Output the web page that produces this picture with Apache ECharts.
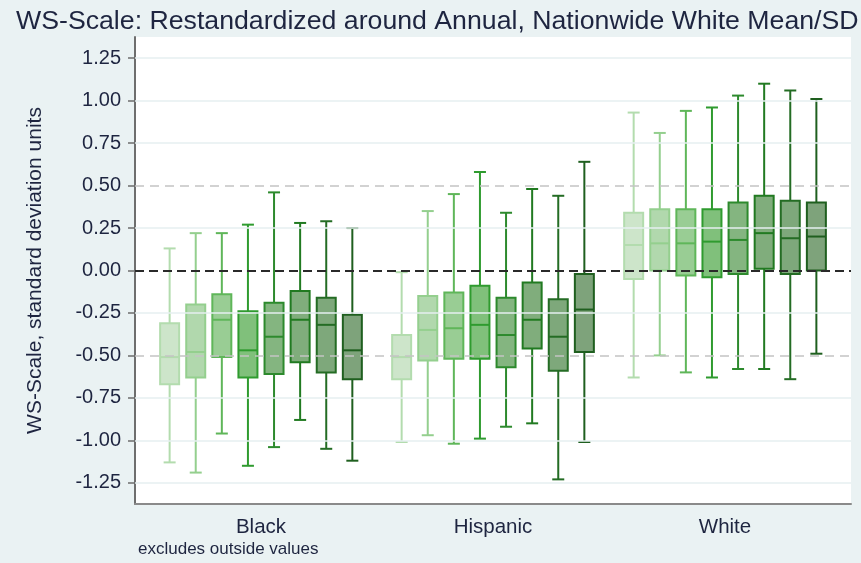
<!DOCTYPE html>
<html>
<head>
<meta charset="utf-8">
<script src="https://cdn.jsdelivr.net/npm/echarts@6/dist/echarts.min.js"></script>
<style>
  html, body { margin: 0; padding: 0; background: #eaf2f3; }
  #chart { width: 861px; height: 563px; }
</style>
</head>
<body>
<div id="chart"></div>
<script>
// Groups along the x axis
const groups = ['Black', 'Hispanic', 'White'];

// Y-axis tick labels (standard deviation units)
const yTicks = [-1.25, -1.00, -0.75, -0.50, -0.25, 0.00, 0.25, 0.50, 0.75, 1.00, 1.25];

// Eight annual cohorts, one box per group each: [lower whisker, Q1, median, Q3, upper whisker]
const cohort1 = [[-1.13, -0.67, -0.51, -0.31, 0.13], [-1.01, -0.64, -0.51, -0.38, -0.01], [-0.63, -0.05, 0.15, 0.34, 0.93]];
const cohort2 = [[-1.19, -0.63, -0.48, -0.20, 0.22], [-0.97, -0.53, -0.35, -0.15, 0.35], [-0.50, 0.00, 0.16, 0.36, 0.81]];
const cohort3 = [[-0.96, -0.51, -0.29, -0.14, 0.22], [-1.02, -0.52, -0.34, -0.13, 0.45], [-0.60, -0.03, 0.16, 0.36, 0.94]];
const cohort4 = [[-1.15, -0.63, -0.47, -0.24, 0.27], [-0.99, -0.52, -0.32, -0.09, 0.58], [-0.63, -0.04, 0.17, 0.36, 0.96]];
const cohort5 = [[-1.04, -0.61, -0.39, -0.19, 0.46], [-0.92, -0.57, -0.38, -0.16, 0.34], [-0.58, -0.02, 0.18, 0.40, 1.03]];
const cohort6 = [[-0.88, -0.54, -0.29, -0.12, 0.28], [-0.90, -0.46, -0.29, -0.07, 0.48], [-0.58, 0.01, 0.22, 0.44, 1.10]];
const cohort7 = [[-1.05, -0.60, -0.32, -0.16, 0.29], [-1.23, -0.59, -0.39, -0.17, 0.44], [-0.64, -0.02, 0.19, 0.41, 1.06]];
const cohort8 = [[-1.12, -0.64, -0.47, -0.26, 0.25], [-1.01, -0.48, -0.23, -0.02, 0.64], [-0.49, 0.00, 0.20, 0.40, 1.01]];
const cohorts = [cohort1, cohort2, cohort3, cohort4, cohort5, cohort6, cohort7, cohort8];

// Reference lines
const zeroLine = 0;
const sdLines = [-0.5, 0.5];

// Styling per cohort, light to dark green
const fills = ['#cde5ca', '#b1d8ad', '#99cd94', '#80c07b', '#84b580', '#80ad7c', '#7ea87b', '#7ea37b'];
const strokes = ['#b3dcae', '#94cf8e', '#5fb659', '#2f9b2f', '#2d8a2d', '#217a21', '#246c24', '#1f5f1f'];

const textColor = '#1e2540';
const fontFamily = 'Liberation Sans, Arial, sans-serif';
const boxSpacing = 0.1125;   // x-axis units between neighbouring boxes
const boxPx = 19;            // box width in pixels
const capPx = 12;            // whisker cap width in pixels

function makeRender(idx) {
  const off = (idx - (cohorts.length - 1) / 2) * boxSpacing;
  return function (params, api) {
    const x = api.value(0) + off;
    const pMin = api.coord([x, api.value(1)]);
    const pQ1 = api.coord([x, api.value(2)]);
    const pMed = api.coord([x, api.value(3)]);
    const pQ3 = api.coord([x, api.value(4)]);
    const pMax = api.coord([x, api.value(5)]);
    const cx = pMin[0];
    const hb = boxPx / 2, hc = capPx / 2;
    const lineStyle = { stroke: strokes[idx], lineWidth: 2 };
    return {
      type: 'group',
      children: [
        { type: 'line', shape: { x1: cx, y1: pMax[1], x2: cx, y2: pQ3[1] }, style: lineStyle },
        { type: 'line', shape: { x1: cx, y1: pQ1[1], x2: cx, y2: pMin[1] }, style: lineStyle },
        { type: 'line', shape: { x1: cx - hc, y1: pMax[1], x2: cx + hc, y2: pMax[1] }, style: lineStyle },
        { type: 'line', shape: { x1: cx - hc, y1: pMin[1], x2: cx + hc, y2: pMin[1] }, style: lineStyle },
        { type: 'rect', shape: { x: cx - hb, y: pQ3[1], width: boxPx, height: pQ1[1] - pQ3[1] },
          style: { fill: fills[idx], stroke: strokes[idx], lineWidth: 2 } },
        { type: 'line', shape: { x1: cx - hb, y1: pMed[1], x2: cx + hb, y2: pMed[1] }, style: lineStyle }
      ]
    };
  };
}

const series = [];

// Faint horizontal grid plus the dashed reference lines
series.push({
  type: 'line',
  data: [],
  silent: true,
  markLine: {
    symbol: 'none',
    silent: true,
    label: { show: false },
    data: yTicks.filter(v => v !== zeroLine && sdLines.indexOf(v) < 0).map(v => ({
      yAxis: v, lineStyle: { color: '#e6eff0', width: 1.5, type: 'solid' }
    })).concat(sdLines.map(v => ({
      yAxis: v, lineStyle: { color: '#c4c4c4', width: 1.5, type: [9, 6] }
    }))).concat([{
      yAxis: zeroLine, lineStyle: { color: '#2a2a2a', width: 2, type: [9, 5] }
    }])
  },
  z: 1
});

cohorts.forEach((c, i) => {
  series.push({
    type: 'custom',
    name: 'cohort' + (i + 1),
    renderItem: makeRender(i),
    encode: { x: 0, y: [1, 2, 3, 4, 5] },
    data: c.map((d, g) => [g].concat(d)),
    z: 3
  });
});

const chart = echarts.init(document.getElementById('chart'), null, { renderer: 'canvas' });
chart.setOption({
  animation: false,
  backgroundColor: '#eaf2f3',
  textStyle: { fontFamily: fontFamily },
  title: {
    text: 'WS-Scale: Restandardized around Annual, Nationwide White Mean/SD',
    left: 11, top: 3,
    textStyle: { fontSize: 26.7, fontWeight: 'normal', color: textColor, fontFamily: fontFamily }
  },
  grid: {
    left: 135, right: 10, top: 37, bottom: 59,
    show: true, backgroundColor: '#ffffff', borderWidth: 0
  },
  xAxis: {
    type: 'value',
    min: -0.543, max: 2.543,
    splitLine: { show: false },
    axisLine: { show: true, onZero: false, lineStyle: { color: '#8a8a8a', width: 2 } },
    axisTick: { show: false },
    axisLabel: {
      customValues: [0, 1, 2],
      formatter: v => groups[Math.round(v)],
      color: textColor, fontSize: 20.5, margin: 13
    }
  },
  yAxis: {
    type: 'value',
    min: -1.375, max: 1.375,
    name: 'WS-Scale, standard deviation units',
    nameLocation: 'middle',
    nameGap: 89,
    nameTextStyle: { fontSize: 21, color: textColor },
    splitLine: { show: false },
    axisLine: { show: true, onZero: false, lineStyle: { color: '#6e6e6e', width: 2 } },
    axisTick: { show: true, customValues: yTicks, length: 7, lineStyle: { color: '#6e6e6e', width: 1.5 } },
    axisLabel: {
      customValues: yTicks,
      formatter: v => v.toFixed(2),
      color: textColor, fontSize: 20, margin: 14
    }
  },
  graphic: [{
    type: 'text',
    left: 138, top: 541,
    style: { text: 'excludes outside values', fontSize: 17, fill: textColor, fontFamily: fontFamily }
  }],
  series: series
});
</script>
</body>
</html>
